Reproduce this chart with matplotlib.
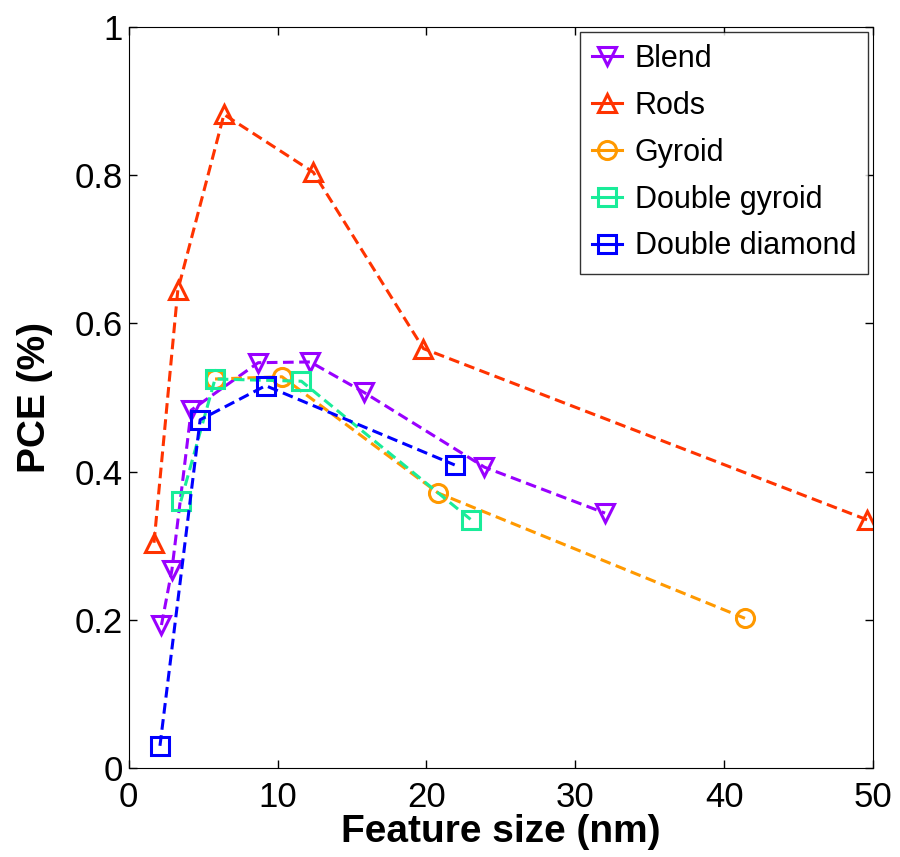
import numpy as np
import matplotlib
matplotlib.use('Agg')
import matplotlib.pyplot as plt
from matplotlib.ticker import FuncFormatter

plt.rcParams['font.family'] = ['Liberation Sans', 'DejaVu Sans']

# data
blend_x = [2.2, 2.9, 4.2, 8.7, 12.2, 15.8, 23.9, 32.0]
blend_y = [0.193, 0.267, 0.483, 0.547, 0.548, 0.507, 0.406, 0.344]
rods_x = [1.7, 3.3, 6.4, 12.4, 19.8, 49.6]
rods_y = [0.304, 0.645, 0.882, 0.804, 0.566, 0.335]
gyroid_x = [5.8, 10.3, 20.8, 41.4]
gyroid_y = [0.525, 0.528, 0.371, 0.202]
dgyroid_x = [3.5, 5.8, 11.6, 23.0]
dgyroid_y = [0.360, 0.525, 0.522, 0.335]
ddiamond_x = [2.1, 4.8, 9.2, 21.9]
ddiamond_y = [0.030, 0.470, 0.516, 0.409]

series = [('Blend', blend_x, blend_y, 'v', '#9900ff'),
          ('Rods', rods_x, rods_y, '^', '#ff3300'),
          ('Gyroid', gyroid_x, gyroid_y, 'o', '#ff9900'),
          ('Double gyroid', dgyroid_x, dgyroid_y, 's', '#19ec99'),
          ('Double diamond', ddiamond_x, ddiamond_y, 's', '#0000ff')]

fig = plt.figure(figsize=(9, 8.57), dpi=100)
ax = fig.add_axes([0.143, 0.1038, 0.827, 0.8647])

for name, x, y, mk, col in series:
    ax.plot(x, y, ls='--', lw=2.2, dashes=(3.5, 1.8), color=col, marker=mk, ms=13,
            mfc='none', mec=col, mew=2.2, label=name)

ax.set_xlim(0, 50)
ax.set_ylim(0, 1)
ax.set_xticks(range(0, 51, 10))
ax.set_yticks(np.arange(0, 1.01, 0.2))
ax.yaxis.set_major_formatter(FuncFormatter(lambda v, p: '%g' % round(v, 1)))
ax.tick_params(direction='in', length=6, width=1, labelsize=25, top=True, right=True)
ax.tick_params(axis='x', pad=9)
ax.tick_params(axis='y', pad=4)
ax.set_xlabel('Feature size (nm)', fontsize=28, fontweight='bold', labelpad=0)
ax.set_ylabel('PCE (%)', fontsize=28, fontweight='bold', labelpad=16)

leg = ax.legend(loc='upper right', fontsize=22, frameon=True, fancybox=False,
                edgecolor='black', borderaxespad=0.16, handlelength=1.0,
                handletextpad=0.4, labelspacing=0.55, borderpad=0.4)
leg.get_frame().set_linewidth(1)
for h in leg.get_lines():
    h.set_linestyle('-')

fig.savefig('out.png', dpi=100)
